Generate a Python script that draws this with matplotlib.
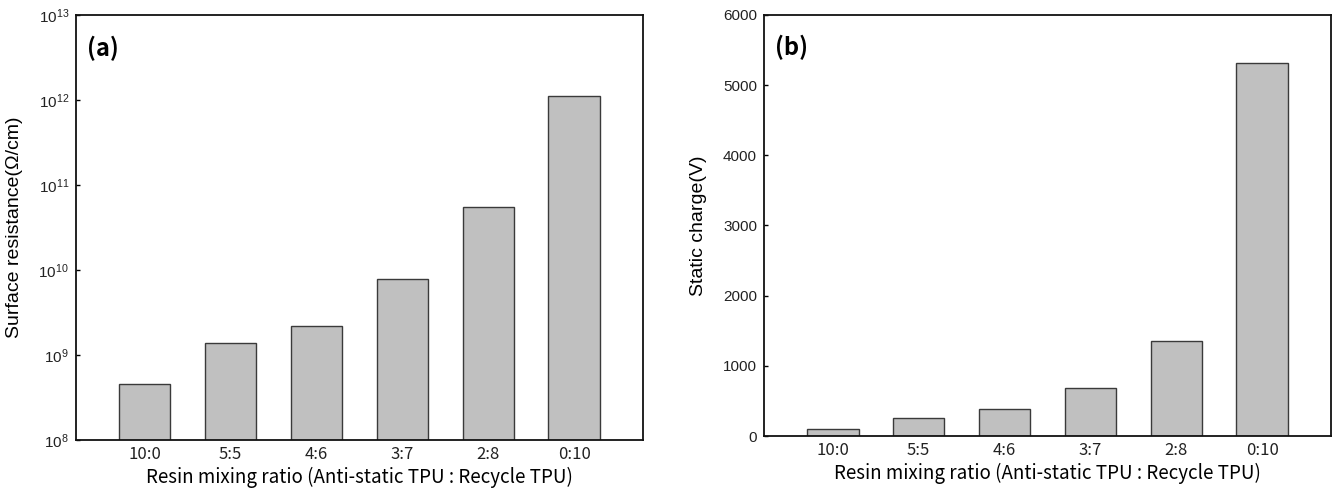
import numpy as np
import matplotlib; matplotlib.use("Agg")
import matplotlib.pyplot as plt
from matplotlib.ticker import LogLocator, LogFormatterMathtext, NullLocator

ratios = ["10:0", "5:5", "4:6", "3:7", "2:8", "0:10"]
surface_res = [4.5e8, 1.4e9, 2.17e9, 7.8e9, 5.5e10, 1.11e12]
static_charge = [95, 260, 380, 690, 1350, 5310]

XLABEL = "Resin mixing ratio (Anti-static TPU : Recycle TPU)"
ARIAL = ["Liberation Sans", "DejaVu Sans"]
KR = ["Noto Sans CJK KR", "DejaVu Sans"]
BAR_FILL, BAR_EDGE = "#c0c0c0", "#3a3a3a"

plt.rcParams.update({"font.family": ARIAL, "mathtext.fontset": "custom",
                     "mathtext.rm": "Liberation Sans"})

fig = plt.figure(figsize=(13.35, 4.93), dpi=100)
ax_a = fig.add_axes([0.0569, 0.1075, 0.4247, 0.862])
ax_b = fig.add_axes([0.5723, 0.1156, 0.4247, 0.854])


def style(ax, ylabel, ylab_x):
    x = np.arange(len(ratios))
    ax.set_xticks(x)
    ax.set_xticklabels(ratios, family=KR, fontsize=12, color="#222222")
    ax.set_xlim(-0.8, 5.8)
    ax.tick_params(axis="x", length=0, pad=4)
    ax.tick_params(axis="y", direction="in", length=3, width=1, pad=5,
                   labelsize=11, labelcolor="#222222")
    ax.set_xlabel(XLABEL, family=KR, fontsize=13.5, labelpad=3)
    ax.set_ylabel(ylabel, family=ARIAL, fontsize=14)
    ax.yaxis.set_label_coords(ylab_x, 0.5)
    for s in ax.spines.values():
        s.set_linewidth(1.3)
        s.set_color("#111111")
    return x


x = style(ax_a, "Surface resistance(Ω/cm)", -0.094)
ax_a.bar(x, surface_res, width=0.6, color=BAR_FILL, edgecolor=BAR_EDGE, linewidth=1.0)
ax_a.set_yscale("log")
ax_a.set_ylim(1e8, 1e13)
ax_a.yaxis.set_major_locator(LogLocator(base=10, numticks=10))
ax_a.yaxis.set_major_formatter(LogFormatterMathtext())
ax_a.yaxis.set_minor_locator(NullLocator())
ax_a.text(0.02, 0.952, "(a)", transform=ax_a.transAxes, fontsize=17, fontweight="bold",
          family=KR, va="top", ha="left")

x = style(ax_b, "Static charge(V)", -0.100)
ax_b.bar(x, static_charge, width=0.6, color=BAR_FILL, edgecolor=BAR_EDGE, linewidth=1.0)
ax_b.set_ylim(0, 6000)
ax_b.set_yticks(np.arange(0, 6001, 1000))
ax_b.text(0.02, 0.952, "(b)", transform=ax_b.transAxes, fontsize=17, fontweight="bold",
          family=KR, va="top", ha="left")

fig.savefig("out.png", dpi=100)
